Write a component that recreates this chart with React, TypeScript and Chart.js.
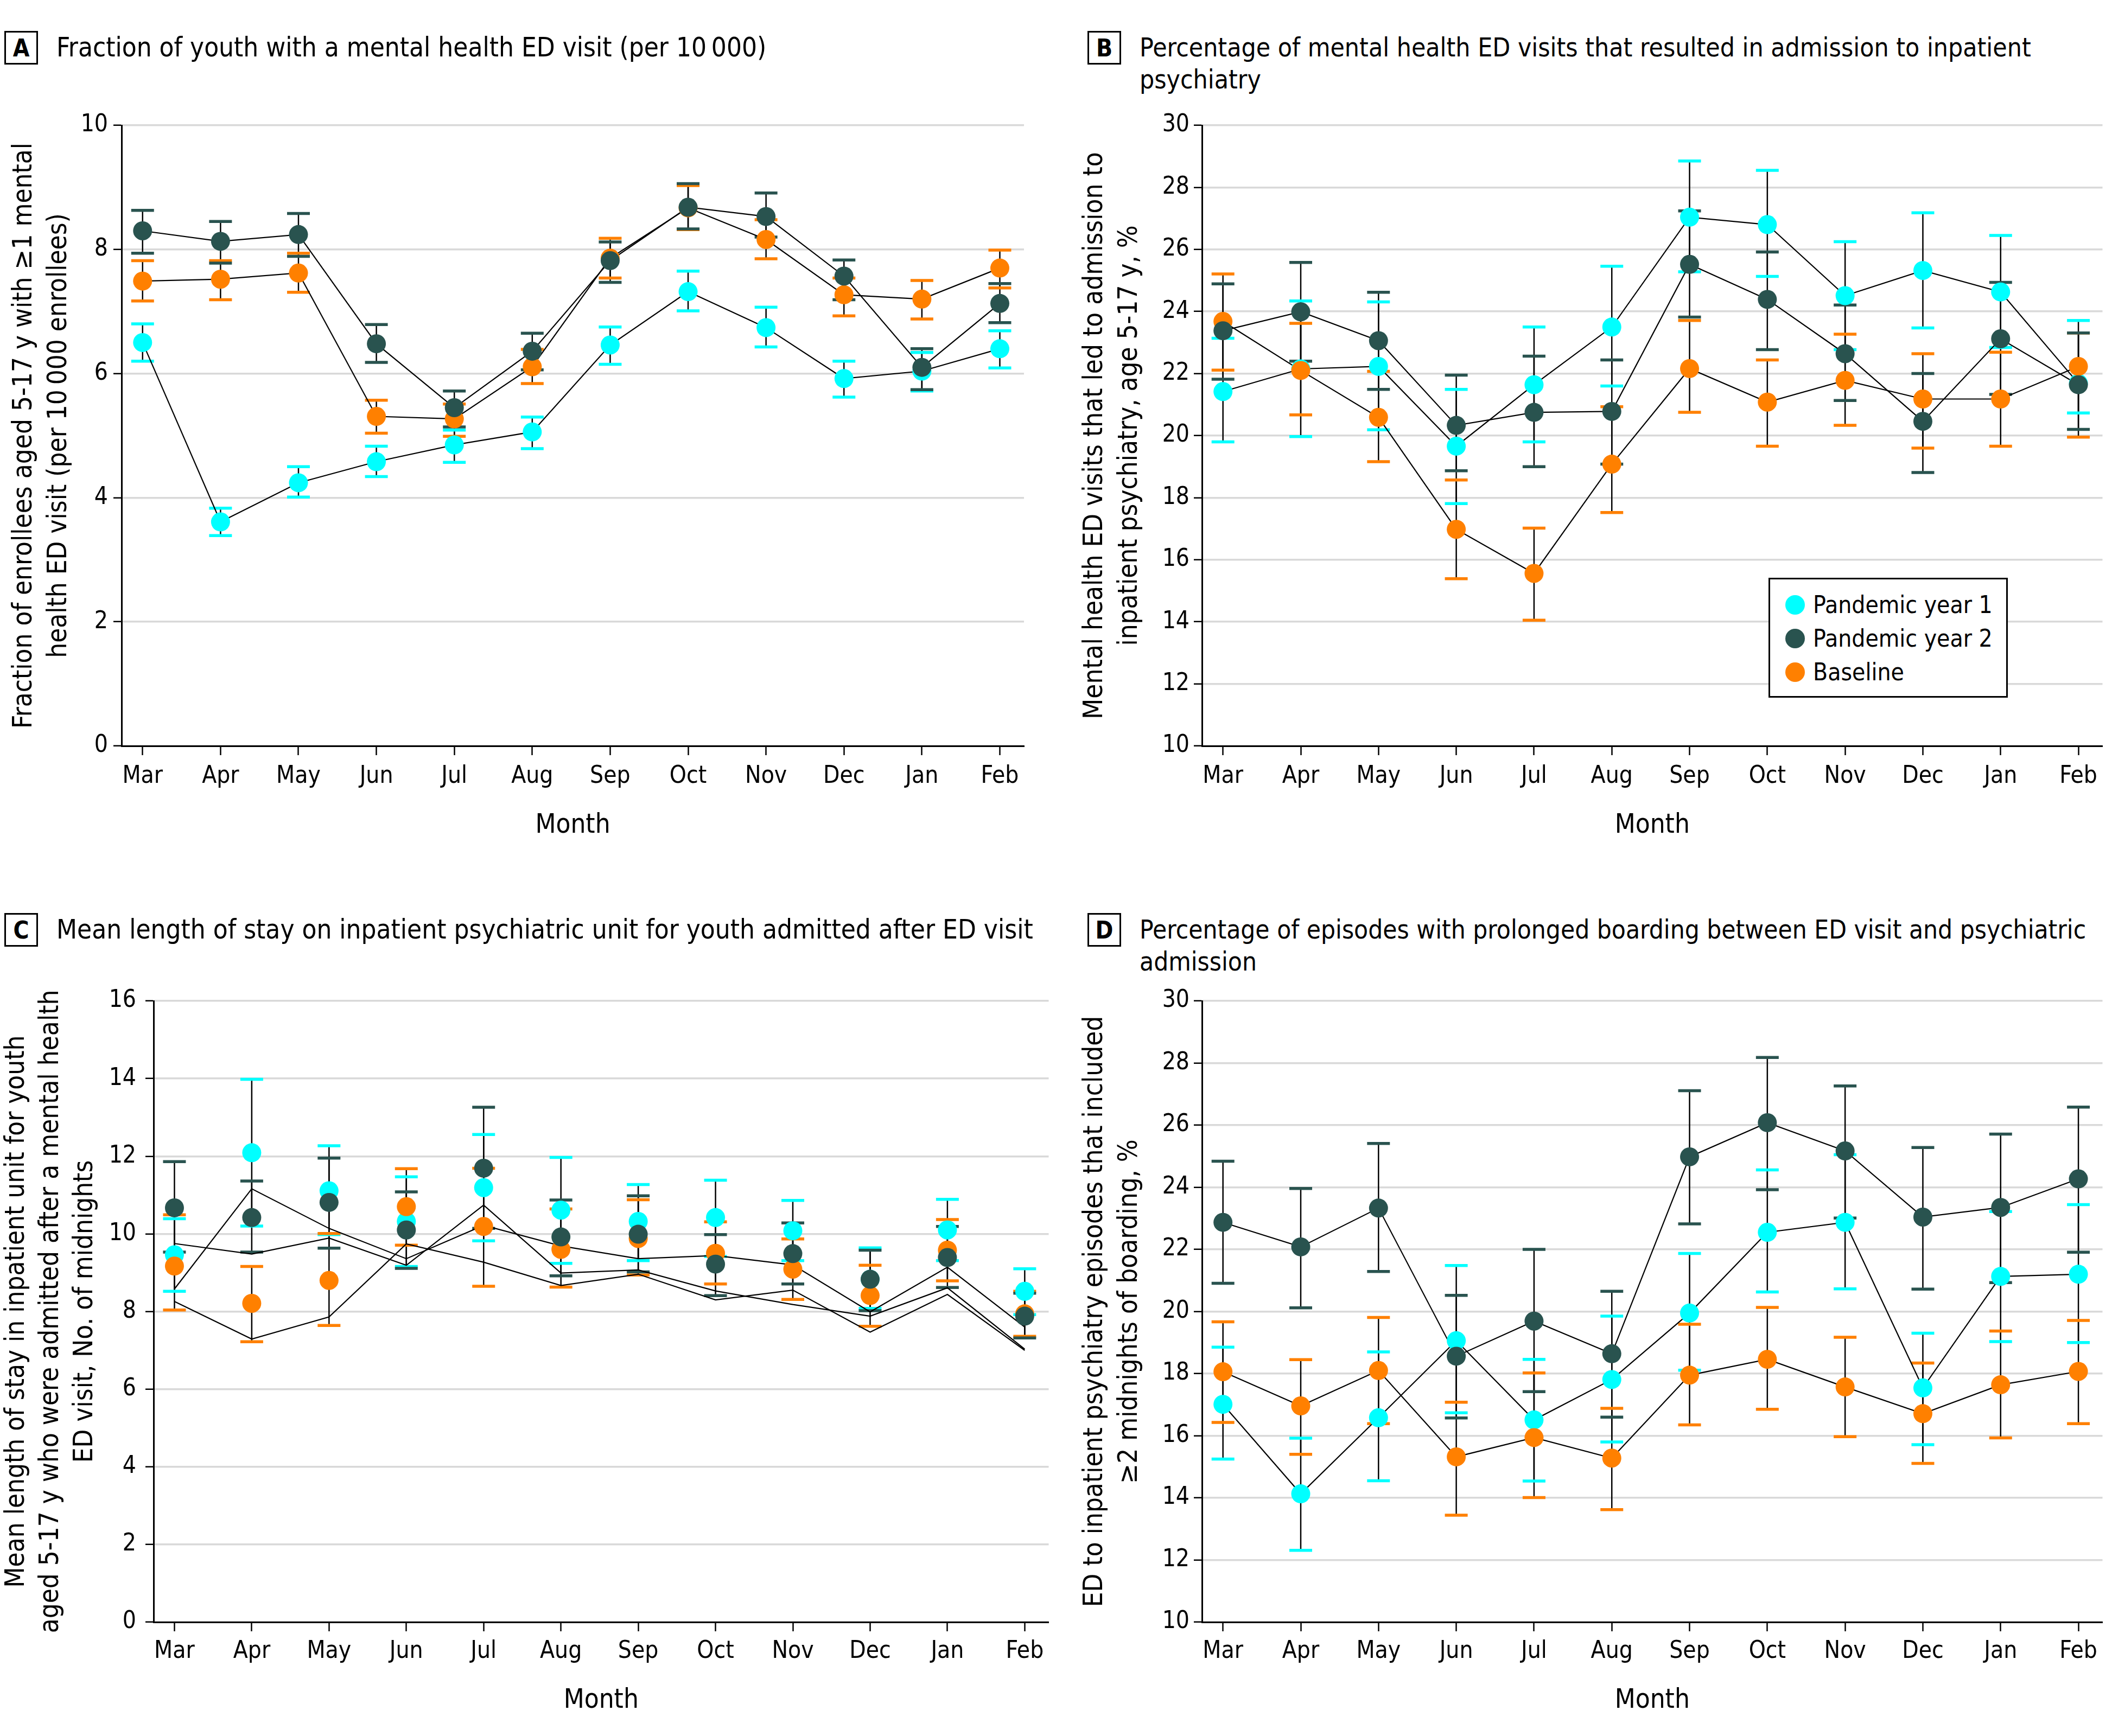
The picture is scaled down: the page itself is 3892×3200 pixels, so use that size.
import React, { useEffect, useRef } from 'react';
import { Chart, registerables } from 'chart.js';
Chart.register(...registerables);

// ---------- data ----------
const months = ['Mar', 'Apr', 'May', 'Jun', 'Jul', 'Aug', 'Sep', 'Oct', 'Nov', 'Dec', 'Jan', 'Feb'];

// Panel A: fraction of youth with a mental health ED visit (per 10 000)
const aPy1 = [6.50, 3.61, 4.24, 4.58, 4.85, 5.06, 6.46, 7.32, 6.74, 5.92, 6.04, 6.40];
const aPy1Lo = [6.20, 3.39, 4.01, 4.34, 4.57, 4.79, 6.15, 7.01, 6.43, 5.62, 5.72, 6.09];
const aPy1Hi = [6.80, 3.83, 4.50, 4.83, 5.09, 5.30, 6.75, 7.65, 7.07, 6.20, 6.34, 6.69];
const aPy2 = [8.30, 8.13, 8.24, 6.48, 5.45, 6.36, 7.82, 8.68, 8.53, 7.57, 6.10, 7.13];
const aPy2Lo = [7.94, 7.78, 7.89, 6.18, 5.14, 6.06, 7.47, 8.33, 8.20, 7.19, 5.74, 6.82];
const aPy2Hi = [8.63, 8.45, 8.58, 6.79, 5.72, 6.65, 8.12, 9.06, 8.91, 7.83, 6.40, 7.45];
const aBase = [7.49, 7.52, 7.62, 5.31, 5.27, 6.11, 7.86, 8.67, 8.16, 7.27, 7.20, 7.70];
const aBaseLo = [7.17, 7.19, 7.31, 5.04, 4.99, 5.84, 7.54, 8.32, 7.85, 6.93, 6.88, 7.38];
const aBaseHi = [7.82, 7.82, 7.94, 5.57, 5.51, 6.39, 8.18, 9.03, 8.48, 7.54, 7.50, 7.99];

// Panel B: % of mental health ED visits resulting in inpatient admission
const bPy1 = [21.42, 22.15, 22.23, 19.66, 21.64, 23.50, 27.04, 26.80, 24.51, 25.32, 24.63, 21.68];
const bPy1Lo = [19.80, 19.97, 20.19, 17.81, 19.80, 21.60, 25.28, 25.13, 22.77, 23.47, 22.84, 20.73];
const bPy1Hi = [23.14, 24.34, 24.31, 21.49, 23.50, 25.46, 28.85, 28.55, 26.25, 27.18, 26.45, 23.71];
const bPy2 = [23.38, 23.99, 23.06, 20.33, 20.75, 20.78, 25.52, 24.39, 22.64, 20.46, 23.12, 21.64];
const bPy2Lo = [21.82, 22.40, 21.49, 18.87, 19.00, 19.08, 23.82, 22.77, 21.13, 18.81, 21.33, 20.20];
const bPy2Hi = [24.89, 25.58, 24.62, 21.95, 22.56, 22.44, 27.24, 25.92, 24.21, 22.00, 24.94, 23.31];
const bBase = [23.68, 22.10, 20.59, 16.98, 15.56, 19.08, 22.16, 21.08, 21.78, 21.18, 21.18, 22.23];
const bBaseLo = [22.11, 20.67, 19.16, 15.39, 14.05, 17.52, 20.75, 19.66, 20.33, 19.60, 19.66, 19.95];
const bBaseHi = [25.21, 23.62, 22.07, 18.57, 17.02, 20.93, 23.71, 22.44, 23.27, 22.64, 22.69, 23.31];

// Panel C: mean length of stay (No. of midnights)
const cPy1 = [9.46, 12.09, 11.11, 10.32, 11.19, 10.61, 10.32, 10.42, 10.08, 8.83, 10.10, 8.52];
const cPy1Lo = [8.52, 10.20, 9.98, 9.16, 9.82, 9.24, 9.31, 9.42, 9.31, 8.08, 9.31, 7.92];
const cPy1Hi = [10.39, 13.98, 12.27, 11.47, 12.56, 11.97, 11.27, 11.38, 10.86, 9.64, 10.89, 9.10];
const cPy2 = [10.67, 10.42, 10.81, 10.10, 11.69, 9.92, 9.99, 9.22, 9.49, 8.83, 9.39, 7.88];
const cPy2Lo = [9.53, 9.53, 9.63, 9.11, 10.14, 8.92, 9.02, 8.41, 8.71, 8.02, 8.62, 7.32];
const cPy2Hi = [11.86, 11.36, 11.95, 11.08, 13.26, 10.87, 10.98, 9.98, 10.28, 9.58, 10.19, 8.47];
const cBase = [9.17, 8.21, 8.80, 10.70, 10.19, 9.60, 9.88, 9.50, 9.09, 8.41, 9.58, 7.94];
const cBaseLo = [8.04, 7.22, 7.64, 9.71, 8.65, 8.63, 8.94, 8.71, 8.31, 7.62, 8.79, 7.36];
const cBaseHi = [10.49, 9.16, 10.01, 11.68, 11.69, 10.64, 10.88, 10.31, 9.87, 9.19, 10.37, 8.52];
// connecting lines in panel C (drawn as in the source figure)
const cLineA = [8.58, 11.16, 10.14, 9.36, 10.22, 9.69, 9.36, 9.44, 9.20, 7.99, 9.14, 7.60];
const cLineB = [9.75, 9.48, 9.89, 9.19, 10.74, 8.99, 9.07, 8.53, 8.18, 7.88, 8.61, 7.03];
const cLineC = [8.26, 7.29, 7.86, 9.74, 9.27, 8.67, 8.96, 8.30, 8.55, 7.47, 8.44, 7.00];

// Panel D: % of episodes with prolonged boarding
const dPy1 = [17.01, 14.13, 16.58, 19.06, 16.51, 17.81, 19.95, 22.55, 22.87, 17.54, 21.13, 21.20];
const dPy1Lo = [15.25, 12.31, 14.55, 16.74, 14.54, 15.80, 18.11, 20.63, 20.73, 15.71, 19.03, 19.00];
const dPy1Hi = [18.85, 15.92, 18.70, 21.48, 18.46, 19.85, 21.87, 24.56, 25.05, 19.30, 23.22, 23.44];
const dPy2 = [22.87, 22.08, 23.33, 18.56, 19.69, 18.64, 24.98, 26.08, 25.17, 23.04, 23.35, 24.27];
const dPy2Lo = [20.91, 20.12, 21.29, 16.57, 17.42, 16.60, 22.82, 23.92, 23.01, 20.72, 20.93, 21.91];
const dPy2Hi = [24.84, 23.96, 25.41, 20.52, 22.00, 20.65, 27.11, 28.18, 27.26, 25.28, 25.71, 26.58];
const dBase = [18.06, 16.96, 18.10, 15.32, 15.94, 15.28, 17.95, 18.46, 17.57, 16.71, 17.64, 18.07];
const dBaseLo = [16.43, 15.40, 16.39, 13.44, 14.01, 13.62, 16.35, 16.85, 15.97, 15.11, 15.93, 16.39];
const dBaseHi = [19.67, 18.45, 19.81, 17.08, 18.02, 16.88, 19.59, 20.13, 19.17, 18.34, 19.37, 19.71];

const seriesNames = ['Pandemic year 1', 'Pandemic year 2', 'Baseline'];

// ---------- style ----------
const FONT = "'DejaVu Sans Condensed', 'DejaVu Sans', sans-serif";
const CYAN = '#00FFFF';
const DARK = '#29534F';
const ORANGE = '#FF8000';
const GRID = '#D9D9D9';
const TITLE_SIZE = 49;

const errorBarPlugin = {
  id: 'errorBars',
  beforeDatasetsDraw(chart: any) {
    const { ctx, scales } = chart;
    const xs = scales.x;
    const ys = scales.y;
    const dsets = chart.data.datasets.filter((d: any) => d.errLo).slice().reverse();
    ctx.save();
    dsets.forEach((ds: any) => {
      ds.errLo.forEach((lo: number, i: number) => {
        const x = xs.getPixelForValue(i);
        const yl = ys.getPixelForValue(lo);
        const yh = ys.getPixelForValue(ds.errHi[i]);
        ctx.strokeStyle = '#000';
        ctx.lineWidth = 2.5;
        ctx.beginPath();
        ctx.moveTo(x, yl);
        ctx.lineTo(x, yh);
        ctx.stroke();
      });
    });
    dsets.forEach((ds: any) => {
      ds.errLo.forEach((lo: number, i: number) => {
        const x = xs.getPixelForValue(i);
        const yl = ys.getPixelForValue(lo);
        const yh = ys.getPixelForValue(ds.errHi[i]);
        ctx.strokeStyle = ds.capColor;
        ctx.lineWidth = 5.5;
        ctx.beginPath();
        ctx.moveTo(x - 21, yl);
        ctx.lineTo(x + 21, yl);
        ctx.moveTo(x - 21, yh);
        ctx.lineTo(x + 21, yh);
        ctx.stroke();
      });
    });
    ctx.restore();
  },
};

type SeriesDef = { values: number[]; lo: number[]; hi: number[]; color: string; label: string };

type PanelDef = {
  left: number; top: number; w: number; h: number;
  area: { left: number; top: number; right: number; bottom: number };
  yMin: number; yMax: number;
  yTitle: string[]; yTitlePad: number; yTitleLH: number;
  xTitlePad: number; xTickPad: number; yTickPad: number;
  series: SeriesDef[];
  connect: boolean;
  extraLines?: number[][];
};

const pts = (arr: number[]) => arr.map((v, i) => ({ x: i, y: v }));

function buildSeries(p1: number[], p1l: number[], p1h: number[], p2: number[], p2l: number[], p2h: number[], b: number[], bl: number[], bh: number[]): SeriesDef[] {
  // order: dark on top, then orange, then cyan
  return [
    { values: p2, lo: p2l, hi: p2h, color: DARK, label: seriesNames[1] },
    { values: b, lo: bl, hi: bh, color: ORANGE, label: seriesNames[2] },
    { values: p1, lo: p1l, hi: p1h, color: CYAN, label: seriesNames[0] },
  ];
}

const panels: PanelDef[] = [
  {
    left: 0, top: 160, w: 1950, h: 1440,
    area: { left: 224, top: 231, right: 1887, bottom: 1375 },
    yMin: 0, yMax: 10,
    yTitle: ['Fraction of enrollees aged 5-17 y with \u22651 mental', 'health ED visit (per 10\u2009000 enrollees)'],
    yTitlePad: 13, yTitleLH: 64,
    xTitlePad: 46, xTickPad: 13, yTickPad: 10,
    series: buildSeries(aPy1, aPy1Lo, aPy1Hi, aPy2, aPy2Lo, aPy2Hi, aBase, aBaseLo, aBaseHi),
    connect: true,
  },
  {
    left: 1950, top: 160, w: 1942, h: 1440,
    area: { left: 2215, top: 231, right: 3878, bottom: 1375 },
    yMin: 10, yMax: 30,
    yTitle: ['Mental health ED visits that led to admission to', 'inpatient psychiatry, age 5-17 y, %'],
    yTitlePad: 36, yTitleLH: 64,
    xTitlePad: 46, xTickPad: 13, yTickPad: 8,
    series: buildSeries(bPy1, bPy1Lo, bPy1Hi, bPy2, bPy2Lo, bPy2Hi, bBase, bBaseLo, bBaseHi),
    connect: true,
  },
  {
    left: 0, top: 1790, w: 1950, h: 1410,
    area: { left: 283, top: 1845, right: 1945, bottom: 2990 },
    yMin: 0, yMax: 16,
    yTitle: ['Mean length of stay in inpatient unit for youth', 'aged 5-17 y who were admitted after a mental health', 'ED visit, No. of midnights'],
    yTitlePad: 0, yTitleLH: 63,
    xTitlePad: 33, xTickPad: 11, yTickPad: 17,
    series: buildSeries(cPy1, cPy1Lo, cPy1Hi, cPy2, cPy2Lo, cPy2Hi, cBase, cBaseLo, cBaseHi),
    connect: false,
    extraLines: [cLineA, cLineB, cLineC],
  },
  {
    left: 1950, top: 1790, w: 1942, h: 1410,
    area: { left: 2215, top: 1845, right: 3878, bottom: 2990 },
    yMin: 10, yMax: 30,
    yTitle: ['ED to inpatient psychiatry episodes that included', '\u22652 midnights of boarding, %'],
    yTitlePad: 36, yTitleLH: 64,
    xTitlePad: 33, xTickPad: 11, yTickPad: 8,
    series: buildSeries(dPy1, dPy1Lo, dPy1Hi, dPy2, dPy2Lo, dPy2Hi, dBase, dBaseLo, dBaseHi),
    connect: true,
  },
];

function Panel({ p }: { p: PanelDef }) {
  const ref = useRef<HTMLCanvasElement>(null);
  useEffect(() => {
    const canvas = ref.current;
    if (!canvas) return;
    const padTop = p.area.top - p.top;
    const padRight = p.left + p.w - p.area.right;
    const yWidth = p.area.left - p.left;
    const xHeight = p.top + p.h - p.area.bottom;

    const datasets: any[] = [];
    p.series.forEach((s) => {
      datasets.push({
        label: s.label,
        data: pts(s.values),
        showLine: false,
        pointRadius: 17.5,
        pointBorderWidth: 0,
        pointBackgroundColor: s.color,
        pointBorderColor: s.color,
        errLo: s.lo,
        errHi: s.hi,
        capColor: s.color,
      });
    });
    const lineSets = p.connect ? p.series.map((s) => s.values) : (p.extraLines || []);
    lineSets.forEach((vals, k) => {
      datasets.push({
        label: 'line' + k,
        data: pts(vals),
        showLine: true,
        pointRadius: 0,
        borderColor: '#000',
        borderWidth: 2.2,
        tension: 0,
        fill: false,
      });
    });

    const tickFont = { family: FONT, size: 44, lineHeight: 1.2 };
    const titleFont = { family: FONT, size: TITLE_SIZE, lineHeight: p.yTitleLH / TITLE_SIZE };

    const chart = new Chart(canvas, {
      type: 'scatter',
      data: { datasets },
      plugins: [errorBarPlugin],
      options: {
        responsive: false,
        animation: false,
        devicePixelRatio: 1,
        events: [],
        layout: { padding: { top: padTop, right: padRight, left: 0, bottom: 0 } },
        plugins: { legend: { display: false }, tooltip: { enabled: false } },
        scales: {
          x: {
            type: 'linear',
            min: -0.27,
            max: 11.31,
            afterBuildTicks: (s: any) => { s.ticks = months.map((_, i) => ({ value: i })); },
            afterFit: (s: any) => { s.height = xHeight; },
            ticks: {
              callback: (v: any) => months[v as number],
              autoSkip: false,
              maxRotation: 0,
              minRotation: 0,
              padding: p.xTickPad,
              color: '#000',
              font: tickFont,
            },
            grid: { display: true, drawOnChartArea: false, drawTicks: true, tickLength: 17, tickColor: '#000', tickWidth: 2.5 },
            border: { display: true, color: '#000', width: 3 },
            title: { display: true, text: 'Month', color: '#000', font: { family: FONT, size: TITLE_SIZE, lineHeight: 64 / TITLE_SIZE }, padding: { top: 0, bottom: p.xTitlePad } },
          },
          y: {
            type: 'linear',
            min: p.yMin,
            max: p.yMax,
            afterFit: (s: any) => { s.width = yWidth; },
            ticks: { stepSize: 2, padding: p.yTickPad, color: '#000', font: tickFont },
            grid: { display: true, color: GRID, lineWidth: 3.5, drawTicks: true, tickLength: 15, tickColor: '#000', tickWidth: 2.5 },
            border: { display: true, color: '#000', width: 3 },
            title: { display: true, text: p.yTitle, color: '#000', font: titleFont, padding: { top: p.yTitlePad, bottom: 0 } },
          },
        },
      } as any,
    });
    return () => chart.destroy();
  }, [p]);
  return (
    <canvas
      ref={ref}
      width={p.w}
      height={p.h}
      style={{ position: 'absolute', left: p.left, top: p.top, width: p.w, height: p.h }}
    />
  );
}

function PanelTitle({ letter, lines, left, top, size }: { letter: string; lines: string[]; left: number; top: number; size: number }) {
  return (
    <>
      <div
        style={{
          position: 'absolute', left: left, top: top, width: 62, height: 62, boxSizing: 'border-box',
          border: '3.5px solid #000', fontFamily: FONT, fontWeight: 'bold', fontSize: 44,
          display: 'flex', alignItems: 'center', justifyContent: 'center', color: '#000',
        }}
      >
        {letter}
      </div>
      <div
        style={{
          position: 'absolute', left: left + 96, top: top + 1, fontFamily: FONT, fontSize: size,
          lineHeight: '59px', whiteSpace: 'nowrap', color: '#000',
        }}
      >
        {lines.map((l, i) => (
          <div key={i}>{l}</div>
        ))}
      </div>
    </>
  );
}

function Legend() {
  const colors = [CYAN, DARK, ORANGE];
  return (
    <div
      style={{
        position: 'absolute', left: 3259, top: 1065, width: 441, height: 221, boxSizing: 'border-box',
        border: '3px solid #000', background: '#fff',
      }}
    >
      {seriesNames.map((n, i) => (
        <div key={n} style={{ position: 'absolute', left: 0, top: 16 + i * 62, height: 62, width: 430 }}>
          <div
            style={{
              position: 'absolute', left: 28, top: 13, width: 36, height: 36, borderRadius: '50%', background: colors[i],
            }}
          />
          <div
            style={{
              position: 'absolute', left: 79, top: 0, lineHeight: '62px', fontFamily: FONT, fontSize: 44,
              whiteSpace: 'nowrap', color: '#000',
            }}
          >
            {n}
          </div>
        </div>
      ))}
    </div>
  );
}

export default function App() {
  return (
    <div style={{ position: 'absolute', left: 0, top: 0, width: 3892, height: 3200, background: '#fff', overflow: 'hidden' }}>
      <PanelTitle letter="A" lines={['Fraction of youth with a mental health ED visit (per 10\u2009000)']} left={8} top={57} size={49} />
      <PanelTitle
        letter="B"
        lines={['Percentage of mental health ED visits that resulted in admission to inpatient', 'psychiatry']}
        left={2004}
        top={57}
        size={47.7}
      />
      <PanelTitle
        letter="C"
        lines={['Mean length of stay on inpatient psychiatric unit for youth admitted after ED visit']}
        left={8}
        top={1683}
        size={49}
      />
      <PanelTitle
        letter="D"
        lines={['Percentage of episodes with prolonged boarding between ED visit and psychiatric', 'admission']}
        left={2004}
        top={1683}
        size={47.4}
      />
      {panels.map((p, i) => (
        <Panel key={i} p={p} />
      ))}
      <Legend />
    </div>
  );
}
